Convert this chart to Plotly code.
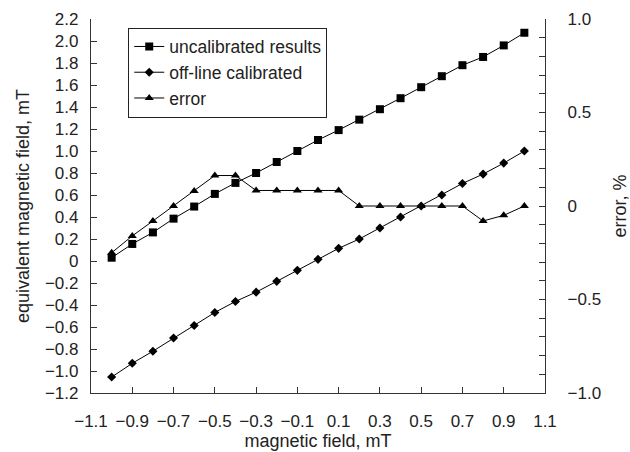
import plotly.graph_objects as go

x_field = [-1.0, -0.9, -0.8, -0.7, -0.6, -0.5, -0.4, -0.3, -0.2, -0.1, 0.0,
           0.1, 0.2, 0.3, 0.4, 0.5, 0.6, 0.7, 0.8, 0.9, 1.0]
uncalibrated = [0.03, 0.155, 0.26, 0.385, 0.495, 0.61, 0.71, 0.80, 0.90, 1.00, 1.10,
                1.19, 1.285, 1.38, 1.48, 1.58, 1.68, 1.78, 1.855, 1.96, 2.075]
offline_calibrated = [-1.055, -0.93, -0.82, -0.70, -0.586, -0.468, -0.368, -0.283, -0.185, -0.085, 0.015,
                      0.115, 0.20, 0.30, 0.40, 0.50, 0.60, 0.705, 0.79, 0.89, 1.00]
error_pct = [-0.25, -0.16, -0.08, 0.0, 0.08, 0.163, 0.163, 0.083, 0.083, 0.083, 0.083,
             0.083, 0.0, 0.0, 0.0, 0.0, 0.0, 0.0, -0.08, -0.05, 0.0]

x_ticks = [-1.1, -0.9, -0.7, -0.5, -0.3, -0.1, 0.1, 0.3, 0.5, 0.7, 0.9, 1.1]
x_ticktext = ["\u22121.1", "\u22120.9", "\u22120.7", "\u22120.5", "\u22120.3", "\u22120.1",
              "0.1", "0.3", "0.5", "0.7", "0.9", "1.1"]
y_ticks = [-1.2, -1.0, -0.8, -0.6, -0.4, -0.2, 0, 0.2, 0.4, 0.6, 0.8, 1.0, 1.2, 1.4, 1.6, 1.8, 2.0, 2.2]
y_ticktext = ["\u22121.2", "\u22121.0", "\u22120.8", "\u22120.6", "\u22120.4", "\u22120.2", "0",
              "0.2", "0.4", "0.6", "0.8", "1.0", "1.2", "1.4", "1.6", "1.8", "2.0", "2.2"]
y2_ticks = [-1.0, -0.9, -0.8, -0.7, -0.6, -0.5, -0.4, -0.3, -0.2, -0.1, 0,
            0.1, 0.2, 0.3, 0.4, 0.5, 0.6, 0.7, 0.8, 0.9, 1.0]
y2_ticktext = ["\u22121.0", "", "", "", "", "\u22120.5", "", "", "", "", "0",
               "", "", "", "", "0.5", "", "", "", "", "1.0"]

FONT = "Liberation Sans, Arial, sans-serif"
TXT = "#222"

fig = go.Figure()
fig.add_trace(go.Scatter(x=x_field, y=uncalibrated, name="uncalibrated results",
                         mode="lines+markers", line=dict(color="black", width=1),
                         marker=dict(symbol="square", size=8, color="black")))
fig.add_trace(go.Scatter(x=x_field, y=offline_calibrated, name="off-line calibrated",
                         mode="lines+markers", line=dict(color="black", width=1),
                         marker=dict(symbol="diamond", size=7, color="black")))
fig.add_trace(go.Scatter(x=x_field, y=error_pct, name="error", yaxis="y2",
                         mode="lines+markers", line=dict(color="black", width=1),
                         marker=dict(symbol="triangle-up", size=8, color="black")))

axis_common = dict(showline=True, linecolor="#333", linewidth=1.3, ticks="inside",
                   ticklen=6, tickcolor="#333", showgrid=False, zeroline=False,
                   automargin=False,
                   tickfont=dict(family=FONT, size=17, color=TXT))

fig.update_layout(
    width=630, height=452,
    margin=dict(l=91, r=85, t=19, b=59),
    paper_bgcolor="white", plot_bgcolor="white",
    font=dict(family=FONT, size=17, color=TXT),
    xaxis=dict(range=[-1.1, 1.1], tickvals=x_ticks, ticktext=x_ticktext,
               title=dict(text="magnetic field, mT", standoff=4,
                          font=dict(family=FONT, size=18, color=TXT)),
               ticklabelstandoff=12, **axis_common),
    yaxis=dict(range=[-1.2, 2.2], tickvals=y_ticks, ticktext=y_ticktext,
               title=dict(text="equivalent magnetic field, mT", standoff=10,
                          font=dict(family=FONT, size=18, color=TXT)),
               ticklabelstandoff=8, **axis_common),
    yaxis2=dict(range=[-1.0, 1.0], tickvals=y2_ticks, ticktext=y2_ticktext,
                overlaying="y", side="right", anchor="x",
                title=dict(text="error, %", standoff=30,
                           font=dict(family=FONT, size=18, color=TXT)),
                ticklabelstandoff=18, **axis_common),
    legend=dict(x=0.082, y=0.977, xanchor="left", yanchor="top",
                bordercolor="#222", borderwidth=1, bgcolor="white",
                font=dict(family=FONT, size=17.5, color=TXT),
                itemwidth=30, tracegroupgap=0),
    showlegend=True,
)

fig.write_html("out.html")
